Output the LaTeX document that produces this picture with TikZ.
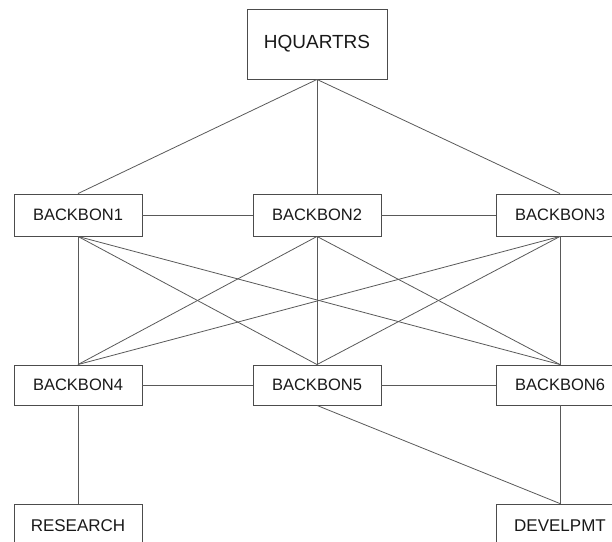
\documentclass[tikz,border=0pt]{standalone}
\usepackage{fontspec}
\setmainfont{Liberation Sans}
\begin{document}
\begin{tikzpicture}[x=1bp,y=-1bp,
  box/.style={draw=black!70,line width=0.9bp,rectangle,inner sep=0pt,minimum width=128bp,minimum height=42bp,text=black!90,font=\fontsize{16.5bp}{18bp}\selectfont},
  hbox/.style={box,minimum width=140bp,minimum height=70bp,font=\fontsize{19bp}{21bp}\selectfont},
  lbox/.style={box,minimum height=44bp,font=\fontsize{17bp}{19bp}\selectfont},
  link/.style={draw=black!65,line width=0.8bp}]
\useasboundingbox (0,0) rectangle (612,542);
\clip (0,0) rectangle (612,542);
\node[hbox] (hq) at (317,44) {HQUARTRS};
\node[box] (b1) at (78,215) {BACKBON1};
\node[box] (b2) at (317,215) {BACKBON2};
\node[box] (b3) at (560,215) {BACKBON3};
\node[box,minimum height=40bp] (b4) at (78,385) {BACKBON4};
\node[box,minimum height=40bp] (b5) at (317,385) {BACKBON5};
\node[box,minimum height=40bp] (b6) at (560,385) {BACKBON6};
\node[lbox] (re) at (78,526) {RESEARCH};
\node[lbox] (de) at (560,526) {DEVELPMT};
\draw[link] (hq.south) -- (b1.north);
\draw[link] (hq.south) -- (b2.north);
\draw[link] (hq.south) -- (b3.north);
\draw[link] (b1.east) -- (b2.west);
\draw[link] (b2.east) -- (b3.west);
\draw[link] (b4.east) -- (b5.west);
\draw[link] (b5.east) -- (b6.west);
\foreach \u in {b1,b2,b3}{
  \foreach \v in {b4,b5,b6}{
    \draw[link] (\u.south) -- (\v.north);
  }
}
\draw[link] (b4.south) -- (re.north);
\draw[link] (b5.south) -- (de.north);
\draw[link] (b6.south) -- (de.north);
\end{tikzpicture}
\end{document}
